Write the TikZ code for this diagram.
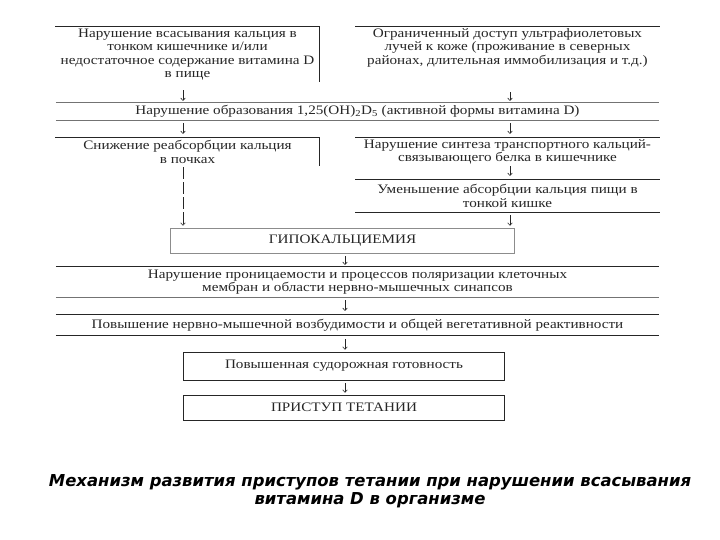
\documentclass[tikz,border=0pt]{standalone}
\usepackage{fontspec}
\setmainfont{Liberation Serif}[FakeStretch=1.17]
\newfontfamily\captfont{DejaVu Sans}
\usetikzlibrary{arrows.meta}

\tikzset{
  txt/.style={inner sep=0pt, align=center, text=black!85,
    font=\fontsize{13}{13.6}\selectfont},
  rule/.style={line width=0.8bp, black!85},
  arr/.style={-{To[length=3bp,width=5bp]}, line width=0.6bp, black!85,
    shorten <=3bp, shorten >=2bp},
}

\begin{document}
\begin{tikzpicture}[x=1bp,y=-1bp]
\useasboundingbox[fill=white] (0,0) rectangle (720,540);
\coordinate (xl) at (183,0);
\coordinate (xr) at (510,0);
\coordinate (xm) at (345,0);

% causes
\node[txt, minimum width=265, minimum height=55] (hdl) at (187.5,54.5)
  {Нарушение всасывания кальция в\\тонком кишечнике и/или\\недостаточное содержание витамина D\\в пище};
\node[txt, minimum width=305, minimum height=41] (hdr) at (507.5,47.5)
  {Ограниченный доступ ультрафиолетовых\\лучей к коже (проживание в северных\\районах, длительная иммобилизация и т.д.)};
\draw[rule] (hdl.north west) -- (hdl.north east) -- (hdl.south east);
\draw[rule] (hdr.north west) -- (hdr.north east);

\node[txt, minimum width=605, minimum height=17] (obr) at (357.5,111.5)
  {Нарушение образования 1,25(OH)\textsubscript{2}D\textsubscript{5} (активной формы витамина D)};
\draw[rule, black!55] (obr.north west) -- (obr.north east);
\draw[rule, black!55] (obr.south west) -- (obr.south east);

% two branches
\node[txt, minimum width=265, minimum height=28] (reab) at (187.5,152)
  {Снижение реабсорбции кальция\\в почках};
\node[txt, minimum width=305, minimum height=28] (sint) at (507.5,152)
  {Нарушение синтеза транспортного кальций-\\связывающего белка в кишечнике};
\draw[rule] (reab.north west) -- (reab.north east) -- (reab.south east);
\draw[rule] (sint.north west) -- (sint.north east);

\node[txt, minimum width=305, minimum height=32] (absorb) at (507.5,196)
  {Уменьшение абсорбции кальция пищи в\\тонкой кишке};
\draw[rule] (absorb.north west) -- (absorb.north east);
\draw[rule] (absorb.south west) -- (absorb.south east);

\node[txt, minimum width=345, minimum height=25, draw=black!45, line width=0.8bp] (hypo) at (342.5,240.5)
  {ГИПОКАЛЬЦИЕМИЯ};

% consequences
\node[txt, minimum width=605, minimum height=30] (pron) at (357.5,282)
  {Нарушение проницаемости и процессов поляризации клеточных\\мембран и области нервно-мышечных синапсов};
\draw[rule] (pron.north west) -- (pron.north east);
\draw[rule, black!55] (pron.south west) -- (pron.south east);

\node[txt, minimum width=605, minimum height=20] (vozb) at (357.5,325)
  {Повышение нервно-мышечной возбудимости и общей вегетативной реактивности};
\draw[rule] (vozb.north west) -- (vozb.north east);
\draw[rule] (vozb.south west) -- (vozb.south east);

\node[txt, minimum width=322, minimum height=28, draw=black!85, line width=0.8bp] (sudor) at (344,366)
  {Повышенная судорожная готовность};
\node[txt, minimum width=322, minimum height=25, draw=black!85, line width=0.8bp] (tetan) at (344,407.5)
  {ПРИСТУП ТЕТАНИИ};

% arrows
\draw[arr, shorten <=8bp] (hdl.south -| xl) -- (obr.north -| xl);
\draw[arr, shorten <=24bp] (hdr.south -| xr) -- (obr.north -| xr);
\draw[arr, shorten >=4bp] (obr.south -| xl) -- (reab.north -| xl);
\draw[arr, shorten >=4bp] (obr.south -| xr) -- (sint.north -| xr);
\draw[arr, shorten <=0bp, shorten >=4bp] (sint.south -| xr) -- (absorb.north -| xr);
\draw[arr] (absorb.south -| xr) -- (hypo.north -| xr);
\draw[arr, dash pattern=on 12bp off 3bp, shorten <=1bp] (reab.south -| xl) -- (hypo.north -| xl);
\draw[arr] (hypo.south -| xm) -- (pron.north -| xm);
\draw[arr, shorten >=4bp] (pron.south -| xm) -- (vozb.north -| xm);
\draw[arr, shorten <=4bp] (vozb.south -| xm) -- (sudor.north -| xm);
\draw[arr] (sudor.south -| xm) -- (tetan.north -| xm);

% caption
\node[align=center, font=\captfont\bfseries\itshape\fontsize{16.5}{18}\selectfont] (capt) at (370,491.5)
  {Механизм развития приступов тетании при нарушении всасывания\\витамина D в организме};
\end{tikzpicture}
\end{document}
